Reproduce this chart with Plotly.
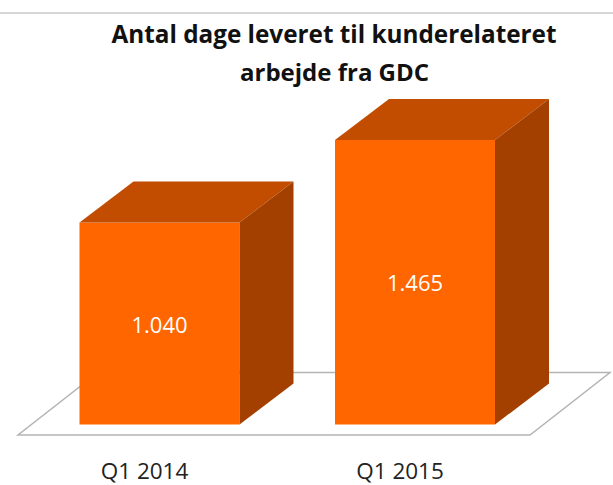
import plotly.graph_objects as go

categories = ["Q1 2014", "Q1 2015"]
values = [1040, 1465]
value_labels = ["1.040", "1.465"]
title_line_1 = "Antal dage leveret til kunderelateret"
title_line_2 = "arbejde fra GDC"

FRONT = "#ff6600"
TOP = "#c24d00"
SIDE = "#a34000"
FLOOR_LINE = "#b4b4b4"

W, H = 613, 485
PLOT_BOTTOM = 455
CAT_PX = 255.5
BAR_PX = 160.0
X0_PX = 159.5
Y0_PX = 424.5
PX_PER_UNIT = 0.1942
DX = 54.0 / CAT_PX
DY = 41.0 / PX_PER_UNIT
half = BAR_PX / CAT_PX / 2
TICK_SHIFT = 15.0 / CAT_PX

fig = go.Figure()

# depth faces derived from the values
for i, v in enumerate(values):
    l, r = i - half, i + half
    fig.add_trace(go.Scatter(x=[l, r, r + DX, l + DX, l], y=[v, v, v + DY, v + DY, v], mode="lines",
                             fill="toself", fillcolor=TOP, line=dict(color=TOP, width=0),
                             hoverinfo="skip", showlegend=False))
    fig.add_trace(go.Scatter(x=[r, r + DX, r + DX, r, r], y=[0, DY, v + DY, v, 0], mode="lines",
                             fill="toself", fillcolor=SIDE, line=dict(color=SIDE, width=0),
                             hoverinfo="skip", showlegend=False))

fig.add_trace(go.Bar(x=list(range(len(categories))), y=values, width=BAR_PX / CAT_PX,
                     marker=dict(color=FRONT, line=dict(width=0)),
                     text=value_labels, textposition="inside", insidetextanchor="middle",
                     textangle=0, constraintext="none",
                     textfont=dict(family="Open Sans", size=22, color="white"),
                     showlegend=False))

# floor
fx = [(18 - X0_PX) / CAT_PX, (530 - X0_PX) / CAT_PX, (610 - X0_PX) / CAT_PX, (98 - X0_PX) / CAT_PX]
fy = [-10.5 / PX_PER_UNIT, -10.5 / PX_PER_UNIT, 52 / PX_PER_UNIT, 52 / PX_PER_UNIT]
floor_path = "M " + " L ".join(f"{a},{b}" for a, b in zip(fx, fy)) + " Z"

fig.update_layout(
    width=W, height=H, autosize=False,
    margin=dict(l=0, r=0, t=0, b=H - PLOT_BOTTOM, pad=0),
    paper_bgcolor="white", plot_bgcolor="white",
    title=dict(text=title_line_1, x=334 / W, xanchor="center", y=1 - 26 / H, yanchor="top",
               font=dict(family="Open Sans", size=24.3, color="#111111", weight="bold")),
    xaxis=dict(range=[-X0_PX / CAT_PX, (W - X0_PX) / CAT_PX], tickmode="array",
               tickvals=[i - TICK_SHIFT for i in range(len(categories))], ticktext=categories,
               showgrid=False, zeroline=False, showline=False, ticks="", automargin=False,
               tickfont=dict(family="Open Sans", size=22.5, color="#222222")),
    yaxis=dict(range=[-(PLOT_BOTTOM - Y0_PX) / PX_PER_UNIT, Y0_PX / PX_PER_UNIT],
               visible=False, showgrid=False, zeroline=False, automargin=False),
    shapes=[
        dict(type="path", path=floor_path, xref="x", yref="y", layer="below",
             fillcolor="white", line=dict(color=FLOOR_LINE, width=1.5)),
        dict(type="line", xref="paper", yref="paper", x0=0, x1=1, y0=1 - 13 / PLOT_BOTTOM,
             y1=1 - 13 / PLOT_BOTTOM, line=dict(color="#c8c8c8", width=1.5)),
    ],
    annotations=[dict(text=title_line_2, xref="paper", yref="paper", x=334 / W, xanchor="center",
                      y=1 - 71 / PLOT_BOTTOM, yanchor="middle", showarrow=False,
                      font=dict(family="Open Sans", size=24, color="#111111", weight="bold"))],
)
fig.write_html("out.html", post_script="document.body.style.margin='0';",
               config=dict(displayModeBar=False))
